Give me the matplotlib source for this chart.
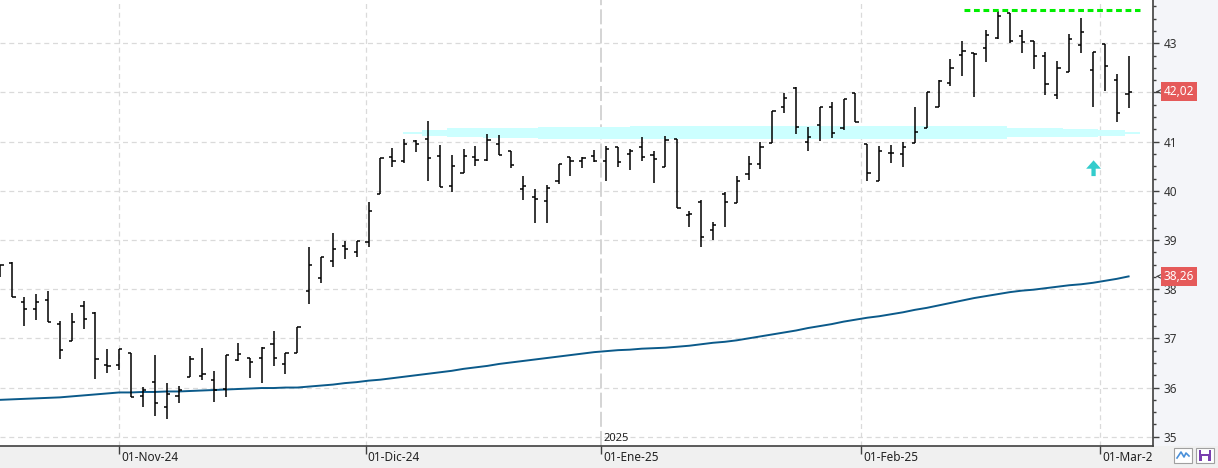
"""Barras OHLC diarias con media movil, zona de soporte y resistencia"""

import matplotlib
matplotlib.use('Agg')
import matplotlib.pyplot as plt
from matplotlib.patches import Rectangle
from matplotlib.ticker import MultipleLocator
from matplotlib.transforms import Bbox, TransformedBbox, blended_transform_factory, offset_copy
import numpy as np

plt.rcParams['font.family'] = ['Noto Sans', 'DejaVu Sans']

W, H = 1218, 468

OPEN = [38.30, 38.53, 37.73, 37.60, 37.79, 37.29, 36.95, 37.66, 37.52, 36.45,
        36.46, 36.70, 35.83, 36.11, 35.60, 35.83, 36.22, 36.24, 36.15, 35.98,
        36.55, 36.61, 36.61, 36.88, 36.47, 36.70, 37.96, 38.22, 38.57, 38.87,
        38.76, 38.95, 39.94, 40.69, 40.61, 41.01, 41.05, 40.71, 40.10, 40.36,
        40.69, 40.63, 40.95, 40.81, 40.03, 39.87, 39.79, 40.20, 40.68, 40.61,
        40.71, 40.61, 40.90, 40.75, 40.89, 40.73, 40.49, 41.05, 39.51, 39.78,
        39.20, 39.94, 39.76, 40.34, 40.55, 40.98, 41.70, 42.09, 41.00, 41.34,
        41.70, 41.27, 41.98, 40.95, 40.19, 40.76, 40.75, 40.97, 41.27, 41.71,
        42.19, 42.76, 42.80, 42.90, 43.10, 43.62, 43.15, 43.05, 42.74, 41.94,
        42.42, 42.97, 42.46, 42.99, 42.25, 41.96]
HIGH = [38.49, 38.55, 37.84, 37.90, 37.96, 37.35, 37.52, 37.76, 37.53, 36.78,
        36.78, 36.70, 36.02, 36.66, 36.10, 36.03, 36.65, 36.80, 36.34, 36.66,
        36.90, 36.61, 36.82, 37.15, 36.70, 37.24, 38.85, 38.65, 39.15, 38.98,
        38.99, 39.77, 40.66, 40.87, 41.05, 41.03, 41.42, 40.93, 40.73, 40.85,
        40.92, 41.16, 41.14, 40.81, 40.30, 40.03, 40.12, 40.55, 40.69, 40.69,
        40.83, 40.92, 40.90, 40.85, 41.09, 40.81, 41.12, 41.05, 39.58, 39.81,
        39.37, 39.98, 40.30, 40.71, 40.99, 41.62, 41.98, 42.11, 41.29, 41.71,
        41.80, 41.86, 41.98, 40.95, 40.91, 40.93, 40.99, 41.71, 42.00, 42.25,
        42.68, 43.05, 42.80, 43.27, 43.66, 43.62, 43.27, 43.05, 42.82, 42.64,
        43.18, 43.51, 42.82, 42.99, 42.38, 42.74]
LOW = [38.25, 37.84, 37.25, 37.37, 37.33, 36.59, 36.95, 37.19, 36.17, 36.29,
       36.36, 35.81, 35.61, 35.43, 35.36, 35.69, 36.22, 36.15, 35.71, 35.81,
       36.53, 36.20, 36.10, 36.44, 36.27, 36.70, 37.69, 38.13, 38.46, 38.62,
       38.66, 38.86, 39.93, 40.49, 40.56, 40.78, 40.21, 40.07, 39.98, 40.36,
       40.51, 40.61, 40.73, 40.46, 39.81, 39.35, 39.34, 40.13, 40.30, 40.47,
       40.59, 40.19, 40.49, 40.42, 40.61, 40.15, 40.49, 39.65, 39.26, 38.86,
       39.00, 39.26, 39.76, 40.23, 40.44, 40.98, 41.59, 41.15, 40.81, 41.02,
       41.07, 41.24, 41.39, 40.19, 40.19, 40.56, 40.49, 40.97, 41.27, 41.71,
       42.13, 42.34, 41.91, 42.61, 43.08, 43.01, 42.81, 42.47, 41.94, 41.86,
       42.42, 42.81, 41.71, 42.04, 41.39, 41.69]
CLOSE = [38.49, 37.84, 37.60, 37.73, 37.33, 36.76, 37.34, 37.39, 36.59, 36.44,
         36.78, 35.81, 35.94, 35.68, 35.86, 35.96, 36.59, 36.27, 35.96, 36.66,
         36.68, 36.51, 36.80, 36.61, 36.70, 37.24, 38.49, 38.65, 38.81, 38.81,
         38.97, 39.60, 40.66, 40.61, 40.95, 40.95, 40.66, 40.07, 40.51, 40.71,
         40.62, 41.03, 40.73, 40.52, 40.10, 39.83, 40.05, 40.55, 40.61, 40.67,
         40.61, 40.85, 40.58, 40.81, 40.68, 40.64, 41.03, 39.65, 39.53, 39.06,
         39.31, 39.77, 40.20, 40.54, 40.90, 41.62, 41.88, 41.29, 41.10, 41.70,
         41.18, 41.86, 41.39, 40.36, 40.81, 40.76, 40.90, 41.19, 42.00, 42.24,
         42.50, 42.84, 42.78, 43.17, 43.56, 43.05, 43.02, 42.74, 42.17, 42.49,
         43.08, 43.24, 42.82, 42.54, 41.58, 42.02]
MA = [35.75, 35.76, 35.77, 35.78, 35.79, 35.80, 35.82, 35.84, 35.86, 35.88,
      35.90, 35.90, 35.91, 35.91, 35.92, 35.92, 35.93, 35.94, 35.95, 35.96,
      35.97, 35.98, 35.99, 35.99, 36.00, 36.00, 36.02, 36.04, 36.06, 36.09,
      36.11, 36.14, 36.16, 36.19, 36.22, 36.25, 36.28, 36.31, 36.34, 36.38,
      36.41, 36.44, 36.48, 36.51, 36.54, 36.57, 36.60, 36.63, 36.66, 36.69,
      36.72, 36.74, 36.76, 36.77, 36.79, 36.80, 36.81, 36.83, 36.85, 36.88,
      36.91, 36.93, 36.96, 37.00, 37.04, 37.08, 37.12, 37.16, 37.21, 37.25,
      37.29, 37.34, 37.38, 37.42, 37.45, 37.49, 37.53, 37.58, 37.62, 37.67,
      37.72, 37.77, 37.82, 37.86, 37.90, 37.94, 37.97, 37.99, 38.02, 38.05,
      38.08, 38.10, 38.13, 38.17, 38.21, 38.26]

MONTH_POS = [10, 30.75, 50.6, 72.5, 92.6]
MONTH_LABELS = ['01-Nov-24', '01-Dic-24', '01-Ene-25', '01-Feb-25', '01-Mar-25']
YEAR_POS = 50.6
YEAR_LABEL = '2025'

# niveles del eje derecho (el 42 queda tapado por la etiqueta del ultimo precio)
Y_LEVELS = [35, 36, 37, 38, 39, 40, 41, 42, 43]
Y_LABELS = ['35', '36', '37', '38', '39', '40', '41', '', '43']

# zona de soporte pintada a mano (tramos)
BAND_X = [33.9, 35.5, 37.6, 40.6, 45.3, 53.0, 84.8, 89.5, 92.4, 94.7, 96.0]
BAND_LO = [41.15, 41.12, 41.10, 41.08, 41.06, 41.05, 41.09, 41.09, 41.12, 41.15, 41.15]
BAND_HI = [41.20, 41.24, 41.27, 41.28, 41.30, 41.32, 41.28, 41.26, 41.24, 41.20, 41.20]

RESIST = 43.67
RESIST_FROM, RESIST_TO = 81.1, 96.0
ARROW_X, ARROW_LOW, ARROW_HIGH = 92.05, 40.30, 40.62

LAST_PRICE = 42.02
LAST_MA = 38.26

X_MIN, X_MAX = -0.04, 97.03
Y_MIN, Y_MAX = 34.811, 43.881


def px_rect(x, y, w, h, **kw):
    return Rectangle((x / W, (H - y - h) / H), w / W, h / H, transform=fig.transFigure, **kw)


fig = plt.figure(figsize=(W / 100, H / 100), dpi=100)
fig.patch.set_facecolor('#f0f0f0')
fig.add_artist(px_rect(1152.7, 0, W - 1152.7, 446, facecolor='#f4f5f9', edgecolor='none', zorder=-5))

ax = fig.add_axes([0, 22 / H, 1152.7 / W, 446 / H])
ax.set_facecolor('white')
ax.set_xlim(X_MIN, X_MAX)
ax.set_ylim(Y_MIN, Y_MAX)

for s in ['top', 'left']:
    ax.spines[s].set_visible(False)
for s in ['bottom', 'right']:
    ax.spines[s].set_color('#404040')
    ax.spines[s].set_linewidth(1.2)

# rejilla
for v in Y_LEVELS:
    ax.axhline(v, color='#dadada', lw=0.9, ls=(0, (4, 3)), zorder=0)
for pos in MONTH_POS:
    if pos == YEAR_POS:
        ax.axvline(pos, color='#cdcdcd', lw=1.2, ls=(0, (9, 2.5)), zorder=0)
    else:
        ax.axvline(pos, color='#dadada', lw=0.9, ls=(0, (4, 3)), zorder=0)

# zona azul
ax.fill_between(BAND_X, BAND_LO, BAND_HI, step='post', color='#ccffff', lw=0, zorder=1)

# media movil
x = np.arange(len(OPEN))
ax.plot(x, MA, color='#0b5a8a', lw=1.4, zorder=2)

# barras OHLC
ax.vlines(x, LOW, HIGH, color='black', lw=1.1, zorder=3)
ax.hlines(OPEN, x - 0.27, x, color='black', lw=1.1, zorder=3)
ax.hlines(CLOSE, x, x + 0.27, color='black', lw=1.1, zorder=3)

# resistencia
ax.hlines(RESIST, RESIST_FROM, RESIST_TO, color='#00ee00', lw=2.2,
          linestyles=(0, (1.9, 1.2)), zorder=4)

# flecha
ax.arrow(ARROW_X, ARROW_LOW, 0, ARROW_HIGH - ARROW_LOW, width=0.36, head_width=1.25,
         head_length=0.17, length_includes_head=True, color='#33cccc', lw=0, zorder=4)

# eje derecho
ax.yaxis.tick_right()
ax.set_yticks(Y_LEVELS)
ax.set_yticklabels(Y_LABELS)
ax.yaxis.set_minor_locator(MultipleLocator(0.25))
ax.tick_params(axis='y', which='major', length=4, width=1, color='#404040',
               labelsize=8.5, labelcolor='#333333', pad=4)
ax.tick_params(axis='y', which='minor', length=2.5, width=1, color='#404040')

# eje inferior
ax.set_xticks(MONTH_POS)
ax.set_xticklabels([])
ax.tick_params(axis='x', length=6, width=1, color='#404040')
lab_trans = offset_copy(blended_transform_factory(ax.transData, ax.transAxes),
                        fig=fig, x=2, y=-5, units='dots')
clip = TransformedBbox(Bbox([[0, 0], [1152 / W, 1]]), fig.transFigure)
for pos, lab in zip(MONTH_POS, MONTH_LABELS):
    t = ax.text(pos, 0, lab, transform=lab_trans, ha='left', va='top',
                fontsize=8.5, color='#222222', clip_on=True)
    t.set_clip_box(clip)

ax.text(YEAR_POS, 0, YEAR_LABEL, ha='left', va='bottom', fontsize=8, color='#222222',
        transform=offset_copy(blended_transform_factory(ax.transData, ax.transAxes),
                              fig=fig, x=2, y=2, units='dots'))

# etiquetas de precio
lab_y = blended_transform_factory(ax.transAxes, ax.transData)
for val in [LAST_PRICE, LAST_MA]:
    ax.text(1.0095, val, ('%.2f' % val).replace('.', ','), transform=lab_y,
            color='white', fontsize=8.5, ha='left', va='center', clip_on=False, zorder=10,
            bbox=dict(boxstyle='square,pad=0.24', fc='#e55a5a', ec='none'))
    ax.annotate('', xy=(1.0005, val), xytext=(1.0065, val), xycoords=lab_y,
                textcoords=lab_y, arrowprops=dict(arrowstyle='->', color='#404040',
                                                  lw=0.8, mutation_scale=6))

# iconos abajo a la derecha
fig.add_artist(px_rect(1174, 448, 18, 15, facecolor='white', edgecolor='#a0a0a0', lw=0.8))
zx = np.array([1177, 1181, 1184, 1186, 1189])
zy = np.array([458, 452, 457, 453, 456])
fig.add_artist(plt.Line2D(zx / W, 1 - zy / H, color='#4a90d9', lw=1.2))
fig.add_artist(px_rect(1196, 448, 18, 15, facecolor='white', edgecolor='#a0a0a0', lw=0.8))
fig.add_artist(px_rect(1199, 450, 12, 11, facecolor='#7a3fb0', edgecolor='none'))
fig.add_artist(px_rect(1201, 450, 8, 4, facecolor='white', edgecolor='none'))
fig.add_artist(px_rect(1202, 456, 6, 5, facecolor='white', edgecolor='none'))

fig.savefig('out.png', dpi=100, facecolor=fig.get_facecolor())
